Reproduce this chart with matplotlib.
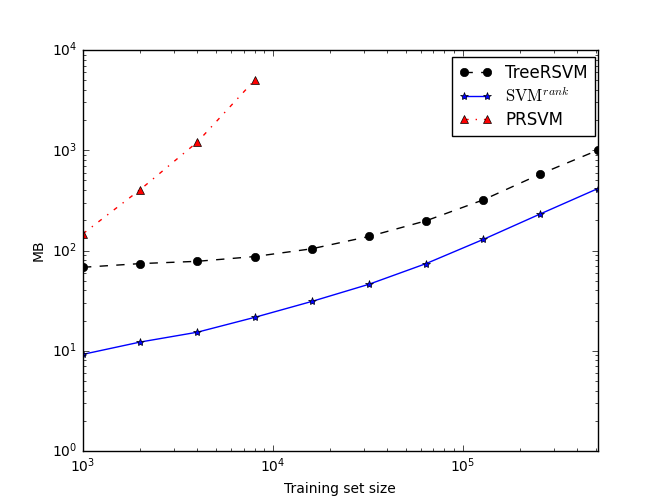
import numpy as np
import matplotlib
matplotlib.use("Agg")
import matplotlib.pyplot as plt

plt.style.use("classic")
plt.rcParams["font.size"] = 10

sizes = [1000, 2000, 4000, 8000, 16000, 32000, 64000, 128000, 256000, 512000]
tree_rsvm = [68, 74, 78, 87, 104, 138, 198, 320, 580, 1000]
svm_rank = [9.2, 12.2, 15.3, 21.5, 31, 46, 74, 129, 232, 414]
pr_sizes = [1000, 2000, 4000, 8000]
prsvm = [147, 405, 1210, 5000]

fig = plt.figure(figsize=(6.64, 5.01), dpi=100)
ax = fig.add_subplot(111)

ax.loglog(sizes, tree_rsvm, "k--o", label="TreeRSVM")
ax.loglog(sizes, svm_rank, "b-*", label=r"$\mathrm{SVM}^{rank}$")
ax.loglog(pr_sizes, prsvm, "r-.^", label="PRSVM")

ax.set_xlim(1000, 512000)
ax.set_ylim(1, 1e4)
ax.set_xlabel("Training set size")
ax.set_ylabel("MB")
ax.legend(loc="upper right", fontsize=12, bbox_to_anchor=(0.994, 0.983),
          borderaxespad=0, labelspacing=0.3)

fig.savefig("out.png", dpi=100)
